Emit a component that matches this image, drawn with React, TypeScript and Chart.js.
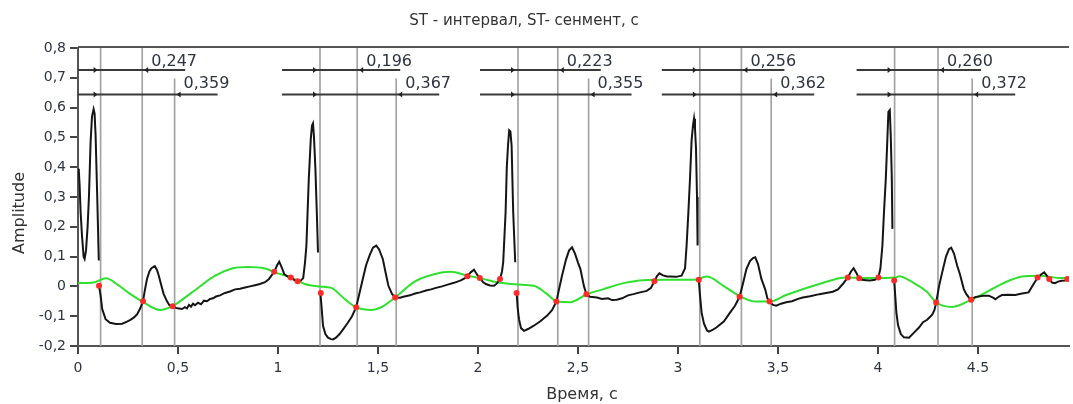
import React, { useEffect, useRef } from "react";
import { Chart, registerables } from "chart.js";

Chart.register(...registerables);

const chartTitle = "ST - интервал, ST- сенмент, с";
const xAxisTitle = "Время, с";
const yAxisTitle = "Amplitude";

const xTicks = [0, 0.5, 1, 1.5, 2, 2.5, 3, 3.5, 4, 4.5];
const xTickLabels = ["0", "0,5", "1", "1,5", "2", "2,5", "3", "3,5", "4", "4.5"];
const yTicks = [-0.2, -0.1, 0, 0.1, 0.2, 0.3, 0.4, 0.5, 0.6, 0.7, 0.8];
const yTickLabels = ["-0,2", "-0,1", "0", "0,1", "0,2", "0,3", "0,4", "0,5", "0,6", "0,7", "0,8"];

// Beat landmarks (seconds)
const jPoints = [0.113, 1.21, 2.2, 3.109, 4.083];
const stSegmentEnds = [0.321, 1.396, 2.399, 3.317, 4.3];
const stIntervalEnds = [0.483, 1.591, 2.553, 3.466, 4.471];
const stSegmentLabels = ["0,247", "0,196", "0,223", "0,256", "0,260"];
const stIntervalLabels = ["0,359", "0,367", "0,355", "0,362", "0,372"];

// ECG trace [time, amplitude]; null = break in the trace
const ecgSamples: [number, number | null][] = [
  [0.0, 0.395], [0.004, 0.39], [0.008, 0.34], [0.013, 0.25], [0.02, 0.17], [0.028, 0.1], [0.033, 0.092],
  [0.04, 0.12], [0.048, 0.2], [0.055, 0.305], [0.063, 0.485], [0.07, 0.57], [0.078, 0.595], [0.083, 0.58],
  [0.088, 0.507], [0.096, 0.305], [0.104, 0.087], [0.1045, null],
  [0.105, 0.002], [0.113, -0.03], [0.121, -0.076], [0.138, -0.11], [0.16, -0.122], [0.19, -0.126],
  [0.221, -0.125], [0.245, -0.118], [0.262, -0.112], [0.28, -0.104], [0.296, -0.093], [0.31, -0.075],
  [0.325, -0.05], [0.335, -0.01], [0.345, 0.025], [0.357, 0.05], [0.367, 0.061], [0.384, 0.068],
  [0.395, 0.055], [0.404, 0.036], [0.416, 0.005], [0.428, -0.025], [0.445, -0.05], [0.457, -0.063],
  [0.473, -0.067], [0.49, -0.072], [0.505, -0.074], [0.52, -0.076], [0.535, -0.07], [0.545, -0.074],
  [0.555, -0.062], [0.565, -0.068], [0.575, -0.058], [0.585, -0.063], [0.6, -0.055], [0.615, -0.06],
  [0.63, -0.048], [0.645, -0.05], [0.66, -0.042], [0.675, -0.04], [0.69, -0.034], [0.71, -0.03],
  [0.735, -0.022], [0.76, -0.017], [0.785, -0.01], [0.81, -0.008], [0.835, -0.004], [0.86, 0.0],
  [0.885, 0.004], [0.91, 0.008], [0.935, 0.014], [0.955, 0.025], [0.981, 0.049], [0.995, 0.07],
  [1.006, 0.083], [1.018, 0.065], [1.031, 0.041], [1.048, 0.033], [1.064, 0.03], [1.08, 0.022],
  [1.098, 0.017], [1.115, 0.02], [1.126, 0.028], [1.135, 0.08], [1.142, 0.137], [1.148, 0.25],
  [1.154, 0.361], [1.164, 0.496], [1.17, 0.54], [1.175, 0.547], [1.18, 0.5], [1.187, 0.395],
  [1.194, 0.25], [1.2, 0.114], [1.205, null],
  [1.212, -0.022], [1.218, -0.07], [1.225, -0.132], [1.237, -0.16], [1.25, -0.172], [1.265, -0.177],
  [1.275, -0.178], [1.29, -0.172], [1.308, -0.16], [1.33, -0.14], [1.35, -0.121], [1.37, -0.1],
  [1.391, -0.07], [1.405, -0.03], [1.424, 0.025], [1.44, 0.07], [1.458, 0.104], [1.475, 0.13],
  [1.491, 0.137], [1.505, 0.125], [1.524, 0.092], [1.54, 0.04], [1.552, 0.002], [1.57, -0.025],
  [1.586, -0.037], [1.61, -0.038], [1.632, -0.034], [1.66, -0.03], [1.685, -0.024], [1.71, -0.02],
  [1.74, -0.014], [1.765, -0.01], [1.79, -0.005], [1.82, 0.0], [1.848, 0.006], [1.88, 0.012],
  [1.914, 0.02], [1.935, 0.028], [1.947, 0.034], [1.965, 0.048], [1.98, 0.056], [1.995, 0.04],
  [2.009, 0.028], [2.025, 0.015], [2.039, 0.008], [2.06, 0.003], [2.08, 0.002], [2.095, 0.01],
  [2.11, 0.025], [2.12, 0.05], [2.126, 0.081], [2.132, 0.165], [2.138, 0.249], [2.144, 0.4],
  [2.15, 0.473], [2.156, 0.524], [2.162, 0.52], [2.168, 0.473], [2.176, 0.249], [2.186, 0.081], [2.19, null],
  [2.193, -0.022], [2.198, -0.07], [2.205, -0.11], [2.215, -0.14], [2.23, -0.149], [2.25, -0.143],
  [2.279, -0.132], [2.31, -0.118], [2.346, -0.098], [2.37, -0.08], [2.392, -0.051], [2.405, -0.01],
  [2.42, 0.036], [2.44, 0.09], [2.455, 0.12], [2.47, 0.131], [2.485, 0.11], [2.5, 0.08], [2.512, 0.058],
  [2.53, 0.0], [2.542, -0.026], [2.56, -0.035], [2.595, -0.037], [2.62, -0.042], [2.65, -0.04],
  [2.67, -0.046], [2.694, -0.045], [2.72, -0.04], [2.75, -0.03], [2.777, -0.026], [2.81, -0.02],
  [2.844, -0.015], [2.865, -0.005], [2.882, 0.017], [2.895, 0.035], [2.907, 0.044], [2.925, 0.037],
  [2.945, 0.033], [2.96, 0.033], [2.99, 0.032], [3.018, 0.036], [3.035, 0.06], [3.043, 0.137],
  [3.052, 0.25], [3.06, 0.361], [3.068, 0.49], [3.075, 0.54], [3.08, 0.563], [3.085, 0.53],
  [3.09, 0.462], [3.095, 0.3], [3.098, 0.137], [3.101, null],
  [3.104, 0.022], [3.11, -0.03], [3.118, -0.088], [3.13, -0.125], [3.145, -0.148], [3.155, -0.152],
  [3.175, -0.145], [3.192, -0.138], [3.229, -0.118], [3.26, -0.088], [3.285, -0.065], [3.308, -0.035],
  [3.325, 0.01], [3.342, 0.058], [3.36, 0.085], [3.375, 0.095], [3.386, 0.098], [3.4, 0.075],
  [3.417, 0.025], [3.436, -0.01], [3.447, -0.04], [3.458, -0.051], [3.475, -0.062], [3.491, -0.065],
  [3.515, -0.058], [3.541, -0.053], [3.57, -0.05], [3.6, -0.042], [3.624, -0.037], [3.66, -0.033],
  [3.707, -0.026], [3.74, -0.022], [3.774, -0.018], [3.8, -0.01], [3.824, 0.008], [3.849, 0.03],
  [3.865, 0.05], [3.878, 0.061], [3.892, 0.045], [3.906, 0.027], [3.92, 0.022], [3.94, 0.021],
  [3.96, 0.02], [3.985, 0.022], [4.002, 0.03], [4.012, 0.06], [4.022, 0.137], [4.03, 0.25],
  [4.039, 0.361], [4.046, 0.48], [4.052, 0.586], [4.059, 0.592], [4.064, 0.5], [4.069, 0.361],
  [4.072, 0.193], [4.076, null],
  [4.081, 0.02], [4.086, -0.03], [4.092, -0.088], [4.1, -0.13], [4.114, -0.16], [4.13, -0.171],
  [4.155, -0.172], [4.18, -0.155], [4.205, -0.138], [4.225, -0.12], [4.246, -0.112], [4.271, -0.095],
  [4.282, -0.08], [4.291, -0.054], [4.305, 0.0], [4.321, 0.047], [4.34, 0.1], [4.355, 0.125],
  [4.366, 0.13], [4.38, 0.11], [4.396, 0.069], [4.41, 0.04], [4.429, -0.009], [4.441, -0.025],
  [4.463, -0.045], [4.485, -0.036], [4.504, -0.034], [4.53, -0.031], [4.554, -0.031], [4.575, -0.038],
  [4.587, -0.043], [4.605, -0.034], [4.62, -0.029], [4.65, -0.028], [4.686, -0.029], [4.72, -0.024],
  [4.753, -0.02], [4.778, 0.008], [4.797, 0.028], [4.815, 0.04], [4.831, 0.047], [4.845, 0.035],
  [4.857, 0.025], [4.87, 0.013], [4.885, 0.011], [4.9, 0.016], [4.918, 0.019], [4.935, 0.02],
  [4.952, 0.025], [4.955, 0.026],
];

// Smoothed baseline (green)
const baselineSamples: [number, number][] = [
  [0, 0.011], [0.07, 0.012], [0.14, 0.027], [0.2, 0.005], [0.26, -0.025], [0.32, -0.05], [0.41, -0.079],
  [0.47, -0.067], [0.57, -0.02], [0.686, 0.036], [0.77, 0.06], [0.85, 0.065], [0.935, 0.06],
  [0.985, 0.047], [1.064, 0.03], [1.134, 0.008], [1.208, 0.0], [1.267, -0.005], [1.333, -0.042],
  [1.391, -0.07], [1.47, -0.079], [1.516, -0.07], [1.586, -0.037], [1.685, 0.017], [1.78, 0.041],
  [1.864, 0.049], [1.947, 0.036], [2.014, 0.027], [2.113, 0.012], [2.196, 0.006], [2.279, 0.002],
  [2.346, -0.026], [2.395, -0.051], [2.462, -0.053], [2.542, -0.027], [2.628, -0.009], [2.728, 0.011],
  [2.827, 0.021], [2.944, 0.022], [3.077, 0.022], [3.144, 0.033], [3.227, 0.002], [3.31, -0.033],
  [3.39, -0.051], [3.458, -0.051], [3.541, -0.029], [3.707, 0.008], [3.84, 0.03], [3.956, 0.028],
  [4.089, 0.03], [4.105, 0.034], [4.172, 0.014], [4.246, -0.019], [4.291, -0.054], [4.371, -0.069],
  [4.466, -0.045], [4.554, -0.015], [4.637, 0.014], [4.72, 0.033], [4.803, 0.036], [4.919, 0.028],
  [4.955, 0.028],
];

// Detected fiducial points (red)
const markerSamples: [number, number][] = [
  [0.105, 0.002], [0.325, -0.05], [0.473, -0.067],
  [0.981, 0.049], [1.064, 0.03], [1.098, 0.017], [1.214, -0.022], [1.391, -0.07], [1.586, -0.037],
  [1.947, 0.034], [2.009, 0.028], [2.11, 0.025], [2.193, -0.022], [2.392, -0.051], [2.542, -0.026],
  [2.882, 0.017], [3.104, 0.022], [3.308, -0.035], [3.458, -0.051],
  [3.849, 0.03], [3.906, 0.027], [4.002, 0.03], [4.081, 0.02], [4.291, -0.054], [4.466, -0.045],
  [4.798, 0.03], [4.856, 0.025], [4.947, 0.025],
];

const FONT = "'DejaVu Sans', 'Noto Sans', sans-serif";

const annotationPlugin = {
  id: "stAnnotations",
  beforeDatasetsDraw(chart: any) {
    const { ctx, chartArea: a, scales } = chart;
    const x = scales.x;
    const y = scales.y;
    ctx.save();
    ctx.beginPath();
    ctx.rect(a.left, a.top, a.right - a.left, a.bottom - a.top);
    ctx.clip();

    // vertical marker lines
    ctx.strokeStyle = "#a4a4a4";
    ctx.lineWidth = 1.7;
    const vline = (t: number, top: number) => {
      const px = x.getPixelForValue(t);
      ctx.beginPath();
      ctx.moveTo(px, top);
      ctx.lineTo(px, a.bottom);
      ctx.stroke();
    };
    jPoints.forEach((t) => vline(t, a.top));
    stSegmentEnds.forEach((t) => vline(t, a.top));
    stIntervalEnds.forEach((t) => vline(t, y.getPixelForValue(0.698)));

    // measurement rows
    const rowU = y.getPixelForValue(0.726);
    const rowL = y.getPixelForValue(0.644);
    ctx.font = `16px ${FONT}`;
    ctx.textAlign = "left";
    ctx.textBaseline = "alphabetic";
    jPoints.forEach((tj, i) => {
      const rows: [number, number, string, number][] = [
        [stSegmentEnds[i], rowU, stSegmentLabels[i], rowU - 4],
        [stIntervalEnds[i], rowL, stIntervalLabels[i], rowL - 6],
      ];
      rows.forEach(([te, ry, label, by]) => {
        const x0 = x.getPixelForValue(tj - 0.19);
        const x1 = x.getPixelForValue(te + 0.215);
        ctx.strokeStyle = "#3a3a3a";
        ctx.lineWidth = 2;
        ctx.beginPath();
        ctx.moveTo(x0, ry);
        ctx.lineTo(x1, ry);
        ctx.stroke();
        ctx.fillStyle = "#222";
        const xs = x.getPixelForValue(tj) - 3;
        ctx.beginPath();
        ctx.moveTo(xs, ry);
        ctx.lineTo(xs - 4, ry - 3);
        ctx.lineTo(xs - 4, ry + 3);
        ctx.closePath();
        ctx.fill();
        const xe = x.getPixelForValue(te) + 2;
        ctx.beginPath();
        ctx.moveTo(xe, ry);
        ctx.lineTo(xe + 4, ry - 3);
        ctx.lineTo(xe + 4, ry + 3);
        ctx.closePath();
        ctx.fill();
        ctx.fillStyle = "#2e3440";
        ctx.fillText(label, xe + 7, by);
      });
    });
    ctx.restore();
  },
  afterDraw(chart: any) {
    const { ctx, chartArea: a } = chart;
    ctx.save();
    // top border
    ctx.strokeStyle = "#555";
    ctx.lineWidth = 2;
    ctx.beginPath();
    ctx.moveTo(a.left, a.top - 1);
    ctx.lineTo(a.right, a.top - 1);
    ctx.stroke();
    ctx.fillStyle = "#333";
    ctx.textBaseline = "alphabetic";
    ctx.textAlign = "center";
    ctx.font = `15px ${FONT}`;
    ctx.fillText(chartTitle, 524, 25);
    ctx.font = `16px ${FONT}`;
    ctx.fillText(xAxisTitle, 582, 399);
    ctx.translate(24, 213);
    ctx.rotate(-Math.PI / 2);
    ctx.fillText(yAxisTitle, 0, 0);
    ctx.restore();
  },
};

export default function App() {
  const canvasRef = useRef<HTMLCanvasElement | null>(null);

  useEffect(() => {
    document.body.style.margin = "0";
    const canvas = canvasRef.current;
    if (!canvas) return;
    Chart.defaults.font.family = FONT;
    const chart = new Chart(canvas, {
      type: "line",
      data: {
        datasets: [
          {
            label: "markers",
            data: markerSamples.map(([t, v]) => ({ x: t, y: v })),
            showLine: false,
            pointRadius: 3,
            pointBackgroundColor: "#ff2b2b",
            pointBorderColor: "#ff2b2b",
            pointBorderWidth: 0,
          },
          {
            label: "ECG",
            data: ecgSamples.map(([t, v]) => ({ x: t, y: v })),
            borderColor: "#151515",
            borderWidth: 2,
            pointRadius: 0,
            tension: 0,
            spanGaps: false,
          },
          {
            label: "baseline",
            data: baselineSamples.map(([t, v]) => ({ x: t, y: v })),
            borderColor: "#2fe02f",
            borderWidth: 2,
            pointRadius: 0,
            cubicInterpolationMode: "monotone",
          },
        ],
      },
      options: {
        animation: false,
        responsive: false,
        events: [],
        layout: { padding: { top: 48, left: 0, right: 0, bottom: 0 } },
        plugins: {
          legend: { display: false },
          title: { display: false },
          tooltip: { enabled: false },
        },
        scales: {
          x: {
            type: "linear",
            min: 0,
            max: 4.955,
            afterBuildTicks: (s: any) => {
              s.ticks = xTicks.map((v) => ({ value: v }));
            },
            afterFit: (s: any) => {
              s.height = 58;
            },
            ticks: {
              autoSkip: false,
              maxRotation: 0,
              padding: 6,
              color: "#2e3440",
              font: { size: 14, family: FONT },
              callback: (v: any) => xTickLabels[xTicks.indexOf(Number(v))] ?? "",
            },
            grid: { drawOnChartArea: false, tickLength: 8, color: "#444", lineWidth: 2 },
            border: { display: true, color: "#555", width: 2 },
          },
          y: {
            type: "linear",
            min: -0.2,
            max: 0.8,
            afterBuildTicks: (s: any) => {
              s.ticks = yTicks.map((v) => ({ value: v }));
            },
            afterFit: (s: any) => {
              s.width = 78;
            },
            ticks: {
              autoSkip: false,
              padding: 4,
              color: "#2e3440",
              font: { size: 14, family: FONT },
              callback: (v: any) => yTickLabels[yTicks.indexOf(Number(v))] ?? "",
            },
            grid: { drawOnChartArea: false, tickLength: 8, color: "#444", lineWidth: 2 },
            border: { display: true, color: "#555", width: 2 },
          },
        },
      },
      plugins: [annotationPlugin],
    } as any);
    return () => chart.destroy();
  }, []);

  return (
    <div style={{ position: "fixed", left: 0, top: 0, width: 1073, height: 404, background: "#fff" }}>
      <canvas ref={canvasRef} width={1073} height={404} style={{ width: 1073, height: 404, display: "block" }} />
    </div>
  );
}
